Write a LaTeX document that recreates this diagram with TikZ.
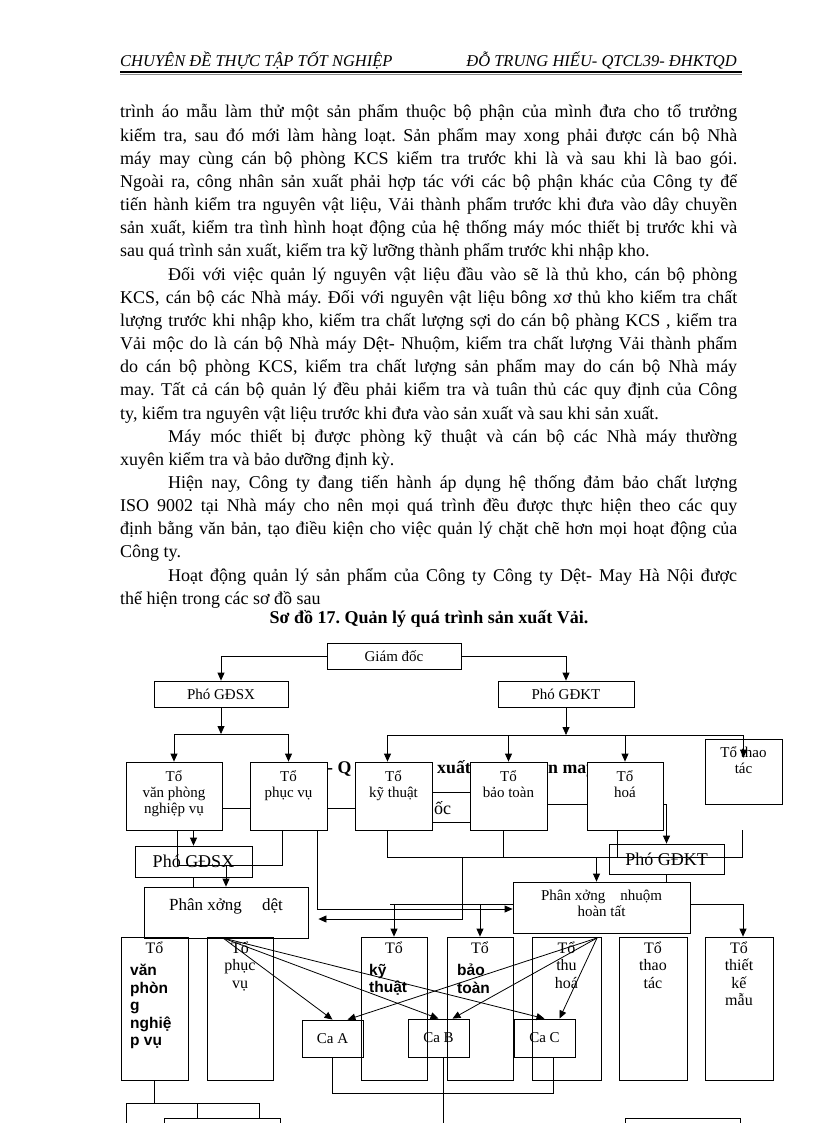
\documentclass[tikz,border=0pt]{standalone}
\usepackage{fontspec}
\setmainfont{Liberation Serif}
\newfontfamily\bsans{Liberation Sans}
\usetikzlibrary{arrows.meta}
\frenchspacing
\tikzset{
 txt/.style={anchor=base west, inner sep=0pt, font=\fontsize{18}{23}\selectfont},
 box/.style={draw, line width=0.8pt, fill=white, inner sep=0pt},
 obox/.style={draw, line width=0.8pt, inner sep=0pt},
 lab15/.style={font=\fontsize{15}{16}\selectfont, align=center, inner sep=0pt},
 lab16/.style={font=\fontsize{16}{17.3}\selectfont, align=center, inner sep=0pt},
 bs/.style={font={\bsans\bfseries\fontsize{15.5}{17.5}\selectfont}, align=left, inner sep=0pt},
 con/.style={line width=0.8pt},
 arr/.style={line width=0.8pt, -{Triangle[length=8pt,width=7pt]}},
 ghost/.style={font=\bfseries\fontsize{17.8}{20}\selectfont, inner sep=0pt, anchor=base west},
}
\newcommand\jline[3]{\node[txt] (#1) at (120,#2) {\makebox[617pt][s]{#3}};}
\newcommand\iline[3]{\node[txt] (#1) at (168,#2) {\makebox[569pt][s]{#3}};}
\newcommand\eline[4]{\node[txt] (#1) at (#2,#3) {#4};}
\newcommand\mybox[7][box]{\node[#1, minimum width={(#4-#2)*1pt}, minimum height={(#5-#3)*1pt}] (#6) at ({(#2+#4)/2},{(#3+#5)/2}) {#7};}
\begin{document}
\begin{tikzpicture}[x=1pt,y=-1pt]
\useasboundingbox (0,0) rectangle (816,1123);
\fill[white] (0,0) rectangle (816,1123);
% header
\node[anchor=base west, inner sep=0pt, font=\itshape\fontsize{16.5}{18}\selectfont] (h1) at (120,67) {CHUYÊN ĐỀ THỰC TẬP TỐT NGHIỆP};
\node[anchor=base east, inner sep=0pt, font=\itshape\fontsize{16.5}{18}\selectfont] (h2) at (737,67) {ĐỖ TRUNG HIẾU- QTCL39- ĐHKTQD};
\draw[line width=1.1pt] (h1.west |- 0,72) -- (742,72);
\draw[line width=1pt, black!45] (h1.west |- 0,74.5) -- (742,74.5);
% body text
\jline{t1}{118}{trình áo mẫu làm thử một sản phẩm thuộc bộ phận của mình đưa cho tổ trưởng}
\jline{t2}{141.2}{kiểm tra, sau đó mới làm hàng loạt. Sản phẩm may xong phải được cán bộ Nhà}
\jline{t3}{164.3}{máy may cùng cán bộ phòng KCS kiểm tra trước khi là và sau khi là bao gói.}
\jline{t4}{187.5}{Ngoài ra, công nhân sản xuất phải hợp tác với các bộ phận khác của Công ty để}
\jline{t5}{210.6}{tiến hành kiểm tra nguyên vật liệu, Vải thành phẩm trước khi đưa vào dây chuyền}
\jline{t6}{233.8}{sản xuất, kiểm tra tình hình hoạt động của hệ thống máy móc thiết bị trước khi và}
\eline{t7}{120}{256.9}{sau quá trình sản xuất, kiểm tra kỹ lưỡng thành phẩm trước khi nhập kho.}
\iline{t8}{280.1}{Đối với việc quản lý nguyên vật liệu đầu vào sẽ là thủ kho, cán bộ phòng}
\jline{t9}{303.2}{KCS, cán bộ các Nhà máy. Đối với nguyên vật liệu bông xơ thủ kho kiểm tra chất}
\jline{t10}{326.4}{lượng trước khi nhập kho, kiểm tra chất lượng sợi do cán bộ phàng KCS , kiểm tra}
\jline{t11}{349.5}{Vải mộc do là cán bộ Nhà máy Dệt- Nhuộm, kiểm tra chất lượng Vải thành phẩm}
\jline{t12}{372.7}{do cán bộ phòng KCS, kiểm tra chất lượng sản phẩm may do cán bộ Nhà máy}
\jline{t13}{395.8}{may. Tất cả cán bộ quản lý đều phải kiểm tra và tuân thủ các quy định của Công}
\eline{t14}{120}{419}{ty, kiểm tra nguyên vật liệu trước khi đưa vào sản xuất và sau khi sản xuất.}
\iline{t15}{442.1}{Máy móc thiết bị được phòng kỹ thuật và cán bộ các Nhà máy thường}
\eline{t16}{120}{465.3}{xuyên kiểm tra và bảo dưỡng định kỳ.}
\iline{t17}{488.4}{Hiện nay, Công ty đang tiến hành áp dụng hệ thống đảm bảo chất lượng}
\jline{t18}{511.6}{ISO 9002 tại Nhà máy cho nên mọi quá trình đều được thực hiện theo các quy}
\jline{t19}{534.7}{định bằng văn bản, tạo điều kiện cho việc quản lý chặt chẽ hơn mọi hoạt động của}
\eline{t20}{120}{557.9}{Công ty.}
\iline{t21}{581}{Hoạt động quản lý sản phẩm của Công ty Công ty Dệt- May Hà Nội được}
\eline{t22}{120}{604.2}{thể hiện trong các sơ đồ sau}
\node[anchor=base, inner sep=0pt, font=\bfseries\fontsize{18}{20}\selectfont] (cap) at (429,623) {Sơ đồ 17. Quản lý quá trình sản xuất Vải.};
% ghost fragments behind row 1
\node[ghost] (g1) at (327,773) {- Q};
\node[ghost] (g2) at (437,773) {xuất};
\node[ghost] (g3) at (548,773) {n may};
\mybox[box]{400}{792}{500}{822}{gd2}{}
\node[anchor=base west, inner sep=0pt, font=\fontsize{18}{20}\selectfont] (g4) at (434,814) {ốc};
% top boxes
\mybox[box]{327}{643}{461}{669}{gd}{\fontsize{15}{16}\selectfont Giám đốc}
\mybox[box]{154}{681}{288}{707}{pgsx}{\fontsize{15}{16}\selectfont Phó GĐSX}
\mybox[box]{498}{681}{634}{707}{pgkt}{\fontsize{15}{16}\selectfont Phó GĐKT}
% row 1
\mybox[box]{126}{762}{222}{830}{vp}{}
\mybox[box]{250}{762}{327}{830}{pv}{}
\mybox[box]{355}{762}{432}{830}{kt}{}
\mybox[box]{470}{762}{547}{830}{bt}{}
\mybox[box]{587}{762}{663}{830}{ho}{}
\mybox[box]{705}{739}{782}{804}{tt1}{}
\node[lab15, anchor=north, yshift=-9pt] (lvp) at (vp.north) {Tổ\\văn phòng\\nghiệp vụ};
\node[lab15, anchor=north, yshift=-9pt] (lpv) at (pv.north) {Tổ\\phục vụ};
\node[lab15, anchor=north, yshift=-9pt] (lkt) at (kt.north) {Tổ\\kỹ thuật};
\node[lab15, anchor=north, yshift=-9pt] (lbt) at (bt.north) {Tổ\\bảo toàn};
\node[lab15, anchor=north, yshift=-9pt] (lho) at (ho.north) {Tổ\\hoá};
\node[lab15, anchor=north, yshift=-8pt] (ltt1) at (tt1.north) {Tổ thao\\tác};
% second layer boxes
\mybox[obox]{135}{846}{252}{877}{pgsx2}{\fontsize{18}{20}\selectfont Phó GĐSX}
\mybox[obox]{609}{844}{724}{874}{pgkt2}{\fontsize{18}{20}\selectfont Phó GĐKT}
\mybox[obox]{144}{887}{308}{938}{dt}{}
\node[anchor=north, inner sep=0pt, font=\fontsize{17}{18}\selectfont, yshift=-12pt] (ldt) at (dt.north) {Phân xởng\hspace{1.2em}dệt};
\mybox[obox]{513}{882}{690}{933}{nh}{}
\node[lab15, anchor=north, yshift=-8pt] (lnh) at (nh.north) {Phân xởng\hspace{1em}nhuộm\\hoàn tất};
% row 2
\mybox[obox]{121}{937}{188}{1080}{vp2}{}
\mybox[obox]{207}{937}{273}{1080}{pv2}{}
\mybox[obox]{361}{937}{427}{1080}{kt2}{}
\mybox[obox]{447}{937}{513}{1080}{bt2}{}
\mybox[obox]{532}{937}{601}{1080}{th2}{}
\mybox[obox]{619}{937}{687}{1080}{tt2}{}
\mybox[obox]{705}{937}{773}{1080}{tk2}{}
\node[lab16, anchor=north, yshift=-5pt] (lvp2) at (vp2.north) {Tổ};
\node[bs, anchor=north west] (lvp2b) at (130,964) {văn\\phòn\\g\\nghiệ\\p vụ};
\node[lab16, anchor=north, yshift=-5pt] (lpv2) at (pv2.north) {Tổ\\phục\\vụ};
\node[lab16, anchor=north, yshift=-5pt] (lkt2) at (kt2.north) {Tổ};
\node[bs, anchor=north west] (lkt2b) at (369,964) {kỹ\\thuật};
\node[lab16, anchor=north, yshift=-5pt] (lbt2) at (bt2.north) {Tổ};
\node[bs, anchor=north west] (lbt2b) at (457,964) {bảo\\toàn};
\node[lab16, anchor=north, yshift=-5pt] (lth2) at (th2.north) {Tổ\\thu\\hoá};
\node[lab16, anchor=north, yshift=-5pt] (ltt2) at (tt2.north) {Tổ\\thao\\tác};
\node[lab16, anchor=north, yshift=-5pt] (ltk2) at (tk2.north) {Tổ\\thiết\\kế\\mẫu};
% Ca boxes
\mybox[obox]{302}{1020}{363}{1057}{caA}{\fontsize{15}{16}\selectfont Ca A}
\mybox[obox]{408}{1019}{469}{1057}{caB}{\fontsize{15}{16}\selectfont Ca B}
\mybox[obox]{514}{1019}{575}{1057}{caC}{\fontsize{15}{16}\selectfont Ca C}
% bottom partial boxes
\mybox[obox]{164}{1118}{280}{1150}{pb1}{}
\mybox[obox]{625}{1118}{740}{1150}{pb2}{}
% ---- connectors: top
\draw[arr] (gd.west) -| (pgsx.north);
\draw[arr] (gd.east) -| (pgkt.north);
\coordinate (bus1) at (221,734);
\coordinate (bus2) at (566,735);
\draw[arr] (pgsx.south) -- (bus1);
\draw[arr] (bus1) -| (vp.north);
\draw[arr] (bus1) -| (pv.north);
\draw[arr] (pgkt.south) -- (bus2);
\draw[arr] (bus2) -| ([xshift=-6pt]kt.north);
\draw[arr] (bus2) -| (bt.north);
\draw[arr] (bus2) -| (ho.north);
\draw[arr] (bus2) -| ([yshift=-19pt]tt1.north);
% row 1 side links
\draw[con] ([yshift=-12pt]vp.east) -- ([yshift=-12pt]pv.west);
\draw[con] ([yshift=-12pt]pv.east) -- ([yshift=-12pt]kt.west);
\draw[con] ([yshift=-8pt]bt.east) -- ([yshift=-8pt]ho.west);
\draw[arr] ([yshift=-8pt]ho.east) -| (pgkt2.north);
% middle
\coordinate (u1) at (177,865);
\coordinate (u2) at (282,865);
\draw[con] (vp.south -| u1) -- (u1) -- (u2) -- (pv.south -| u2);
\draw[arr] (pgsx2.north |- vp.south) -- (pgsx2.north);
\draw[arr] (dt.north |- u1) -- (dt.north);
\draw[con] (pgsx2.south) -- (dt.north -| pgsx2.south);
\coordinate (p317) at (317,909);
\draw[arr] (pv.south -| p317) -- (p317) -- (nh.west |- p317);
\coordinate (b3L) at (387,857);
\coordinate (b3R) at (742,857);
\coordinate (b3T) at (742,830);
\coordinate (c503) at (503,857);
\coordinate (c617) at (617,857);
\coordinate (c462) at (462,857);
\coordinate (c462b) at (462,919);
\draw[con] (kt.south -| b3L) -- (b3L) -- (b3R) -- (b3T);
\draw[con] (bt.south -| c503) -- (c503);
\draw[con] (ho.south -| c617) -- (c617);
\draw[arr] (c462) -- (c462b) -- ([xshift=10pt]dt.east |- c462b);
\draw[arr] ([xshift=-5pt]nh.north |- b3L) -- ([xshift=-5pt]nh.north);
\draw[con] (pgkt2.south) -- (nh.north -| pgkt2.south);
\coordinate (c390) at (390,904);
\draw[con] (c390) -- (nh.west |- c390);
\draw[arr] (kt2.north |- c390) -- (kt2.north);
\draw[arr] (bt2.north |- c390) -- (bt2.north);
\draw[arr] (nh.east |- c390) -| ([xshift=4pt]tk2.north);
% fans
\coordinate (D) at (223,938);
\coordinate (N) at (597,938);
\draw[arr] (D) -- (caA.north);
\draw[arr] (D) -- (caB.north);
\draw[arr] (D) -- (caC.north);
\draw[arr] (N) -- ([xshift=15pt]caA.north);
\draw[arr] (N) -- ([xshift=14pt]caB.north);
\draw[arr] (N) -- ([xshift=15pt]caC.north);
% bottom
\coordinate (cb1) at (553,1093);
\draw[con] (caA.south) |- (cb1) -- (caC.south -| cb1);
\coordinate (cbB) at (443,1130);
\draw[con] (caB.south -| cbB) -- (cbB);
\coordinate (t1a) at (126,1103);
\coordinate (t2a) at (259,1103);
\coordinate (t3a) at (197,1103);
\draw[con] (vp2.south) -- (vp2.south |- t1a);
\draw[con] (126,1130) -- (t1a) -- (t2a) -- (pb1.north -| t2a);
\draw[con] (t3a) -- (pb1.north -| t3a);
\end{tikzpicture}
\end{document}
